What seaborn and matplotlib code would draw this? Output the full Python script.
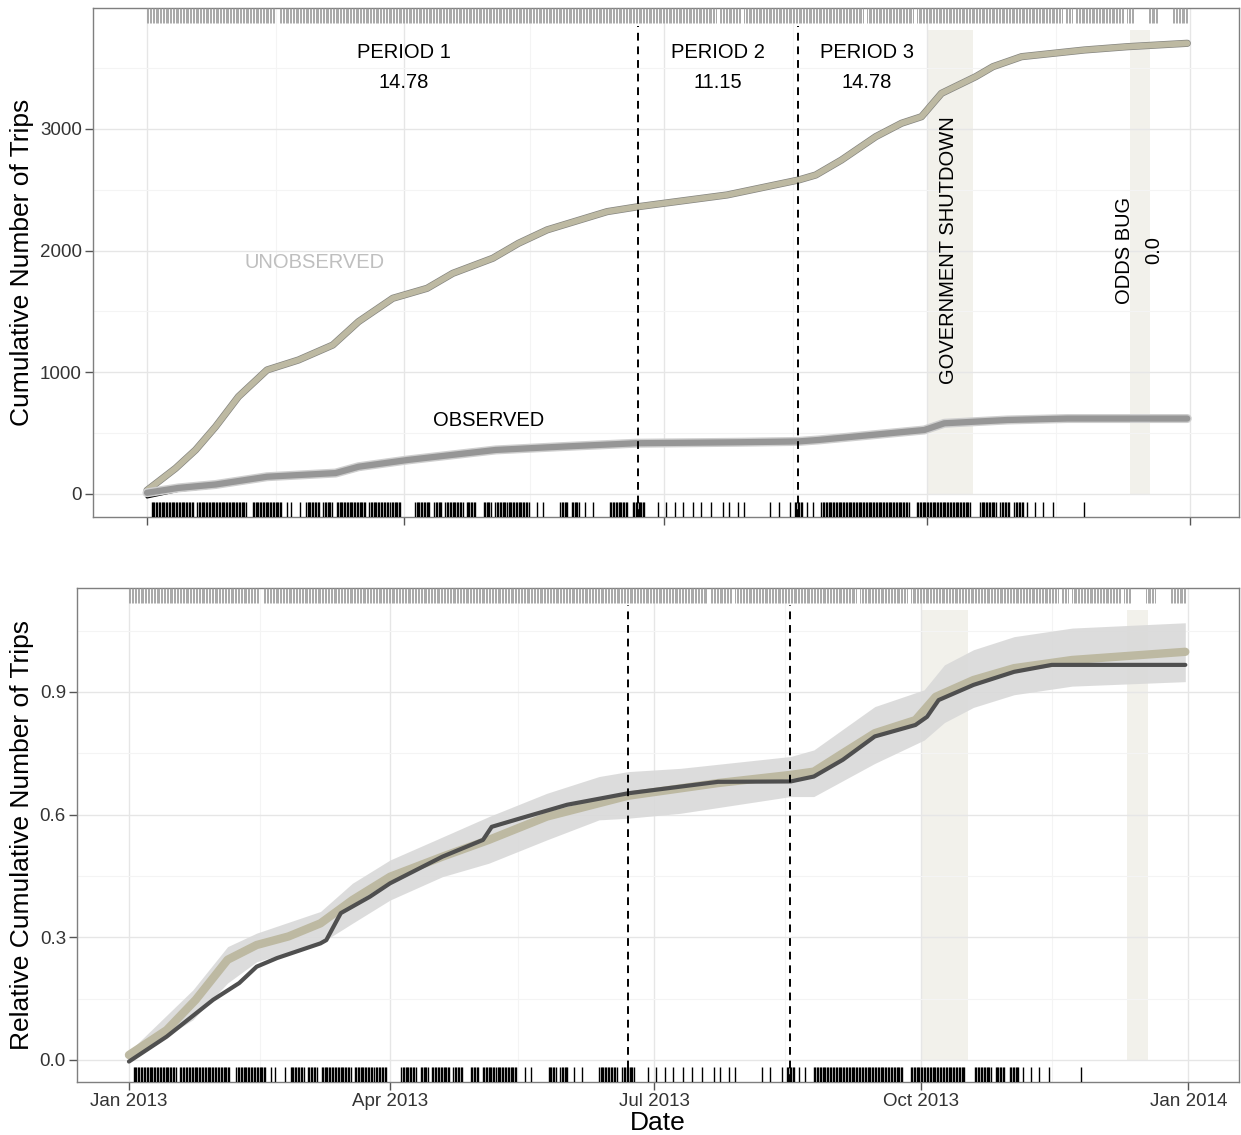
import numpy as np
import pandas as pd
import matplotlib
matplotlib.use("Agg")
import matplotlib.pyplot as plt
import matplotlib.dates as mdates
import seaborn as sns

# all x values are days after 1 Jan 2013
# top panel: cumulative trips
unobs_day = [0, 10, 17, 24, 32, 42, 53, 65, 74, 86, 98, 107, 121, 130, 140, 161, 172, 181, 203,
             228, 234, 243, 255, 264, 271, 275, 278, 290, 296, 306, 328, 343, 364]
unobs_cum = [30, 211, 362, 553, 800, 1019, 1101, 1224, 1416, 1608, 1690, 1813, 1937, 2060, 2170, 2320,
             2361, 2389, 2457, 2580, 2621, 2744, 2936, 3046, 3100, 3210, 3292, 3429, 3511, 3593, 3648,
             3675, 3703]
obs_day = [0, 11, 24, 42, 66, 74, 91, 122, 145, 158, 171, 207, 228, 235, 272, 279, 301, 322, 364]
obs_cum = [10, 50, 78, 142, 172, 224, 279, 362, 389, 403, 417, 425, 432, 444, 526, 581, 608, 620, 620]
obs_raw_day = [0, 11, 24, 42, 66, 74, 91]
obs_raw_cum = [-25, 30, 60, 125, 155, 205, 270]

# bottom panel: relative cumulative trips
rel_exp_day = [0, 13, 23, 34, 44, 55, 66, 77, 90, 108, 124, 144, 172, 203, 228, 236, 246, 257, 271,
               278, 291, 305, 325, 364]
rel_exp = [0.012, 0.073, 0.147, 0.245, 0.281, 0.302, 0.334, 0.391, 0.448, 0.497, 0.538, 0.595, 0.646,
           0.677, 0.697, 0.705, 0.750, 0.799, 0.831, 0.888, 0.929, 0.958, 0.978, 0.998]
rel_obs_day = [0, 13, 29, 38, 44, 51, 66, 68, 73, 83, 90, 108, 122, 125, 135, 151, 172, 203, 228, 236,
               246, 257, 271, 275, 279, 291, 305, 318, 364]
rel_obs = [-0.004, 0.057, 0.147, 0.188, 0.228, 0.249, 0.285, 0.293, 0.359, 0.399, 0.432, 0.497, 0.538,
           0.570, 0.591, 0.624, 0.652, 0.680, 0.681, 0.693, 0.734, 0.791, 0.819, 0.839, 0.880, 0.917,
           0.949, 0.966, 0.966]
band_day = [0, 22, 34, 44, 66, 77, 90, 108, 124, 144, 162, 172, 190, 228, 236, 257, 274, 281, 291, 305,
            325, 364]
band_hi = [0.020, 0.171, 0.277, 0.310, 0.363, 0.432, 0.489, 0.545, 0.595, 0.652, 0.693, 0.705, 0.713,
           0.742, 0.758, 0.864, 0.905, 0.966, 1.003, 1.035, 1.056, 1.069]
band_lo = [0.0, 0.098, 0.188, 0.240, 0.285, 0.334, 0.391, 0.448, 0.481, 0.538, 0.587, 0.591, 0.603,
           0.644, 0.644, 0.725, 0.782, 0.825, 0.862, 0.893, 0.914, 0.925]

# rug spans (days with trips)
obs_spans = [(1.6, 16.3), (17.6, 35), (37, 47), (49, 49), (50.4, 50.4), (53.7, 53.7), (55.7, 60.4),
             (61.7, 65), (66.4, 76.4), (77.8, 84.5), (85.1, 89), (93.8, 99.1), (100.5, 103.1),
             (104.4, 110.5), (111.8, 115.2), (117.8, 120.5), (121.9, 125.9), (126.5, 133.9),
             (136.6, 136.6), (138.6, 138.6), (144.6, 147.3), (148.6, 151.2), (153.3, 153.3), (156, 156),
             (162, 168), (170, 174), (178.9, 178.9), (181.7, 181.7), (184.6, 184.6), (187.5, 187.5),
             (191, 191), (193.9, 193.9), (197.4, 197.4), (201.7, 201.7), (203.8, 203.8), (206.7, 206.7),
             (208.8, 208.8), (218, 218), (221, 221), (225, 225), (226.7, 229.5), (231, 231), (233, 233),
             (236, 266.6), (269.4, 288), (291.5, 297.2), (298.6, 302), (303.5, 306.5), (308, 308),
             (310.7, 310.7), (313.5, 313.5), (317, 317), (327.9, 327.9)]
unobs_spans = [(0, 44.5), (46.5, 199), (200.5, 207.5), (209, 250.5), (252, 268), (269.5, 320),
               (321.5, 323.5), (325, 341.5), (343, 345), (350.5, 353.5), (359, 364)]

period_cuts = ["2013-06-21 20:00", "2013-08-16 20:00"]
events = [("2013-10-01", "2013-10-17"), ("2013-12-11", "2013-12-18")]
period_names = ["PERIOD 1", "PERIOD 2", "PERIOD 3"]
period_vals = ["14.78", "11.15", "14.78"]
period_pos = [89.8, 199.8, 251.8]

BEIGE = "#bdb9a2"
BAND = "#f2f1eb"

sns.set_theme(style="whitegrid")
plt.rcParams["font.family"] = ["Liberation Sans", "DejaVu Sans"]

t0 = mdates.date2num(pd.Timestamp("2013-01-01"))


def d(days):
    return t0 + np.asarray(days, dtype=float)


def spans_to_days(spans, step):
    out = []
    for a, b in spans:
        out.extend(np.arange(a, b + 0.01, step))
    return d(out)


fig = plt.figure(figsize=(12.41, 11.35), dpi=100)
ax1 = fig.add_axes([93 / 1241, 1 - 517 / 1135, (1239 - 93) / 1241, 509 / 1135])
ax2 = fig.add_axes([77 / 1241, 1 - 1082 / 1135, (1239 - 77) / 1241, 494 / 1135])

for ax in (ax1, ax2):
    ax.set_facecolor("white")
    for s in ax.spines.values():
        s.set_color("#7f7f7f")
        s.set_linewidth(1)
    ax.xaxis.set_major_locator(mdates.MonthLocator(bymonth=[1, 4, 7, 10]))
    ax.xaxis.set_minor_locator(mdates.MonthLocator(bymonth=[2, 5, 8, 11], bymonthday=15))
    ax.xaxis.set_major_formatter(mdates.DateFormatter("%b %Y"))
    ax.grid(which="major", color="#e6e6e6", lw=1)
    ax.grid(which="minor", color="#f4f4f4", lw=0.8)
    ax.set_axisbelow(True)
    ax.tick_params(axis="both", which="major", bottom=True, left=True, length=6, width=1,
                   color="#555555", labelsize=13.5, labelcolor="#333333", pad=2)
    ax.tick_params(axis="both", which="minor", bottom=False, left=False)
    for c in period_cuts:
        ax.axvline(mdates.date2num(pd.Timestamp(c)), ymin=0.0, ymax=0.965, color="black", lw=1.4,
                   ls=(0, (4, 3)), zorder=4)
    ax.vlines(spans_to_days(unobs_spans, 0.5), 0.97, 1.0, transform=ax.get_xaxis_transform(),
              color="#9a9a9a", lw=0.6, zorder=5)
    sns.rugplot(x=spans_to_days(obs_spans, 0.5), ax=ax, height=0.03, color="black", lw=0.8,
                expand_margins=False, zorder=5)

# ---- top panel
ax1.set_xlim(t0 - 18.9, t0 + 382.1)
ax1.set_ylim(-189, 3993)
ax1.yaxis.set_major_locator(plt.FixedLocator([0, 1000, 2000, 3000]))
ax1.yaxis.set_minor_locator(plt.FixedLocator([500, 1500, 2500, 3500]))
ax1.tick_params(axis="x", labelbottom=False)

for a, b in events:
    ax1.fill_between([mdates.date2num(pd.Timestamp(a)), mdates.date2num(pd.Timestamp(b))], 0, 3810,
                     color=BAND, lw=0, zorder=0.5)

df_un = pd.DataFrame({"date": d(unobs_day), "trips": unobs_cum})
df_ob = pd.DataFrame({"date": d(obs_day), "trips": obs_cum})
df_raw = pd.DataFrame({"date": d(obs_raw_day), "trips": obs_raw_cum})
sns.lineplot(data=df_un, x="date", y="trips", ax=ax1, color="#858580", lw=5.2, errorbar=None, zorder=2)
sns.lineplot(data=df_un, x="date", y="trips", ax=ax1, color=BEIGE, lw=4.2, errorbar=None, zorder=2.1)
sns.lineplot(data=df_raw, x="date", y="trips", ax=ax1, color="black", lw=2.2, errorbar=None, zorder=2)
sns.lineplot(data=df_ob, x="date", y="trips", ax=ax1, color="#cfcfcf", lw=6.5, errorbar=None, zorder=2.1)
sns.lineplot(data=df_ob, x="date", y="trips", ax=ax1, color="#969696", lw=4.5, errorbar=None, zorder=2.2)

for name, val, pos in zip(period_names, period_vals, period_pos):
    ax1.text(d(pos), 3624, name, ha="center", va="center", fontsize=14.5, color="black", zorder=6)
    ax1.text(d(pos), 3377, val, ha="center", va="center", fontsize=14.5, color="black", zorder=6)
ax1.text(d(58.7), 1898, "UNOBSERVED", ha="center", va="center", fontsize=14.5, color="#bfbfbf")
ax1.text(d(119.5), 600, "OBSERVED", ha="center", va="center", fontsize=14.5, color="black")
ax1.text(d(280.3), 2005, "GOVERNMENT SHUTDOWN", rotation=90, ha="center", va="center",
         fontsize=14.5, color="black")
ax1.text(d(342), 2005, "ODDS BUG", rotation=90, ha="center", va="center", fontsize=14.5, color="black")
ax1.text(d(352.4), 2005, "0.0", rotation=90, ha="center", va="center", fontsize=14.5, color="black")

ax1.set_xlabel("")
ax1.set_ylabel("Cumulative Number of Trips", fontsize=19, color="black", va="center")
ax1.yaxis.set_label_coords(-71 / 1146, 0.5)

# ---- bottom panel
ax2.set_xlim(t0 - 17.9, t0 + 382.5)
ax2.set_ylim(-0.054, 1.154)
ax2.yaxis.set_major_locator(plt.FixedLocator([0.0, 0.3, 0.6, 0.9]))
ax2.yaxis.set_minor_locator(plt.FixedLocator([0.15, 0.45, 0.75, 1.05]))
ax2.yaxis.set_major_formatter(plt.FormatStrFormatter("%.1f"))

for a, b in events:
    ax2.fill_between([mdates.date2num(pd.Timestamp(a)), mdates.date2num(pd.Timestamp(b))], 0, 1.10,
                     color=BAND, lw=0, zorder=0.5)

ax2.fill_between(d(band_day), band_lo, band_hi, color="#d9d9d9", alpha=0.9, lw=0, zorder=1.5)
df_exp = pd.DataFrame({"date": d(rel_exp_day), "rel": rel_exp})
df_rel = pd.DataFrame({"date": d(rel_obs_day), "rel": rel_obs})
sns.lineplot(data=df_exp, x="date", y="rel", ax=ax2, color=BEIGE, lw=6, errorbar=None, zorder=2)
sns.lineplot(data=df_rel, x="date", y="rel", ax=ax2, color="#4f4f4f", lw=3, errorbar=None, zorder=2.2)

ax2.set_xlabel("Date", fontsize=19, color="black")
ax2.xaxis.set_label_coords(0.5, -0.058)
ax2.set_ylabel("Relative Cumulative Number of Trips", fontsize=19, color="black", va="center")
ax2.yaxis.set_label_coords(-55 / 1162, 0.5)

fig.savefig("out.png", dpi=100)
